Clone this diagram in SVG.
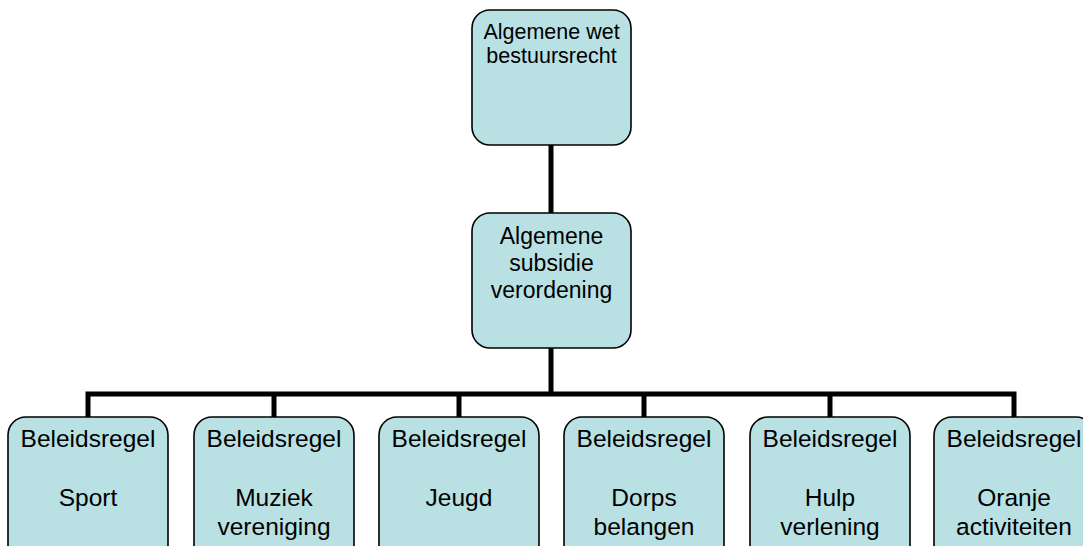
<svg xmlns="http://www.w3.org/2000/svg" width="1083" height="546" viewBox="0 0 1083 546">
<style>
.box{fill:#b9e0e3;stroke:#000;stroke-width:1.6}
.t{font-family:"Liberation Sans",Arial,sans-serif;fill:#000;text-anchor:middle}
.top{font-size:21.5px}
.mid{font-size:23px}
.bot{font-size:24.5px}
.c{stroke:#000;stroke-width:5;fill:none}
</style>
<rect width="1083" height="546" fill="#fff"/>
<g id="connectors">
<line class="c" x1="551" y1="145" x2="551" y2="213"/>
<line class="c" x1="551" y1="348" x2="551" y2="394"/>
<polyline class="c" points="88,418 88,394 1014,394 1014,418"/>
<line class="c" x1="274" y1="394" x2="274" y2="418"/>
<line class="c" x1="459" y1="394" x2="459" y2="418"/>
<line class="c" x1="644" y1="394" x2="644" y2="418"/>
<line class="c" x1="830" y1="394" x2="830" y2="418"/>
</g>
<g id="n-awb">
<rect class="box" x="472" y="10" width="159" height="135" rx="18"/>
<text class="t top" x="551.5" y="39">Algemene wet</text>
<text class="t top" x="551.5" y="63">bestuursrecht</text>
</g>
<g id="n-asv">
<rect class="box" x="472" y="213" width="159" height="135" rx="18"/>
<text class="t mid" x="551.5" y="244">Algemene</text>
<text class="t mid" x="551.5" y="271">subsidie</text>
<text class="t mid" x="551.5" y="298">verordening</text>
</g>
<g id="n-sport">
<rect class="box" x="8" y="417" width="160" height="150" rx="18"/>
<text class="t bot" x="88" y="447">Beleidsregel</text>
<text class="t bot" x="88" y="506">Sport</text>
</g>
<g id="n-muziek">
<rect class="box" x="194" y="417" width="160" height="150" rx="18"/>
<text class="t bot" x="274" y="447">Beleidsregel</text>
<text class="t bot" x="274" y="506">Muziek</text>
<text class="t bot" x="274" y="535">vereniging</text>
</g>
<g id="n-jeugd">
<rect class="box" x="379" y="417" width="160" height="150" rx="18"/>
<text class="t bot" x="459" y="447">Beleidsregel</text>
<text class="t bot" x="459" y="506">Jeugd</text>
</g>
<g id="n-dorps">
<rect class="box" x="564" y="417" width="160" height="150" rx="18"/>
<text class="t bot" x="644" y="447">Beleidsregel</text>
<text class="t bot" x="644" y="506">Dorps</text>
<text class="t bot" x="644" y="535">belangen</text>
</g>
<g id="n-hulp">
<rect class="box" x="750" y="417" width="160" height="150" rx="18"/>
<text class="t bot" x="830" y="447">Beleidsregel</text>
<text class="t bot" x="830" y="506">Hulp</text>
<text class="t bot" x="830" y="535">verlening</text>
</g>
<g id="n-oranje">
<rect class="box" x="934" y="417" width="160" height="150" rx="18"/>
<text class="t bot" x="1014" y="447">Beleidsregel</text>
<text class="t bot" x="1014" y="506">Oranje</text>
<text class="t bot" x="1014" y="535">activiteiten</text>
</g>
</svg>
